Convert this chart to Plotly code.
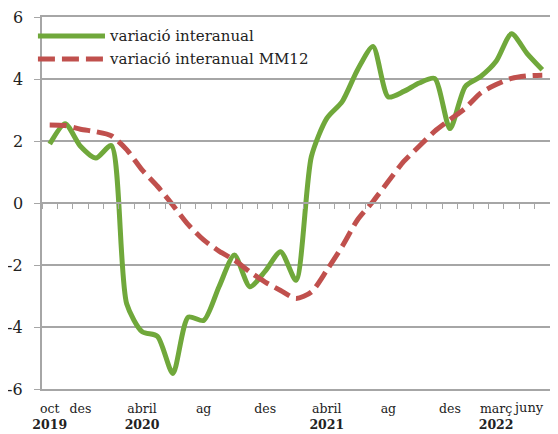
import plotly.graph_objects as go

# months from oct 2019 to juny 2022 (index 0..32)
months = ["oct 2019", "nov 2019", "des 2019", "gen 2020", "feb 2020", "març 2020",
          "abril 2020", "maig 2020", "juny 2020", "jul 2020", "ag 2020", "set 2020",
          "oct 2020", "nov 2020", "des 2020", "gen 2021", "feb 2021", "març 2021",
          "abril 2021", "maig 2021", "juny 2021", "jul 2021", "ag 2021", "set 2021",
          "oct 2021", "nov 2021", "des 2021", "gen 2022", "feb 2022", "març 2022",
          "abril 2022", "maig 2022", "juny 2022"]

interanual = [1.9, 2.56, 1.83, 1.45, 1.85, -3.25, -4.15, -4.3, -5.5, -3.68, -3.79,
              -2.7, -1.68, -2.7, -2.2, -1.57, -2.49, 1.5, 2.73, 3.27, 4.3, 5.05,
              3.42, 3.6, 3.87, 4.02, 2.4, 3.76, 4.08, 4.57, 5.46, 4.83, 4.3]

interanual_mm12 = [2.52, 2.5, 2.38, 2.3, 2.17, 1.72, 1.07, 0.54, -0.07, -0.7, -1.19,
                   -1.55, -1.84, -2.22, -2.55, -2.82, -3.08, -2.87, -2.17, -1.4, -0.54,
                   0.05, 0.7, 1.34, 1.83, 2.31, 2.69, 3.06, 3.55, 3.82, 4.02, 4.1, 4.12]

tick_months = [0, 2, 6, 10, 14, 18, 22, 26, 29]
tick_text = ["oct<br><b>2019</b>", "des", "abril<br><b>2020</b>", "ag", "des",
             "abril<br><b>2021</b>", "ag", "des", "març<br><b>2022</b>"]
last_label = "juny"  # last month, right-aligned so it stays inside the picture

y_ticks = [-6, -4, -2, 0, 2, 4, 6]

GREEN = "#70a83b"
RED = "#c0504d"
GRID = "#a6a6a6"
FONT = "DejaVu Serif"
DASH = "17px,7px"

x = list(range(len(months)))
bounds = [i - 0.5 for i in range(len(months) + 1)]

fig = go.Figure()
fig.add_trace(go.Scatter(x=x, y=interanual, mode="lines", name="variació interanual",
                         line=dict(color=GREEN, width=5, shape="spline", smoothing=0.7),
                         showlegend=False))
fig.add_trace(go.Scatter(x=x, y=interanual_mm12, mode="lines", xaxis="x2",
                         name="variació interanual MM12",
                         line=dict(color=RED, width=5, dash=DASH, shape="spline", smoothing=0.7),
                         showlegend=False))

# hand-made legend, long line samples like the original
legend_items = [("variació interanual", GREEN, "solid", 0.949),
                ("variació interanual MM12", RED, DASH, 0.887)]
for label, color, dash, ypos in legend_items:
    fig.add_shape(type="line", xref="paper", yref="paper", x0=-0.008, x1=0.124,
                  y0=ypos, y1=ypos, line=dict(color=color, width=5, dash=dash))
    fig.add_annotation(text=label, xref="paper", yref="paper", x=0.128, y=ypos,
                       xanchor="left", yanchor="middle", showarrow=False,
                       font=dict(family=FONT, size=15, color="#222"))

fig.add_annotation(text=last_label, x=x[-1], xref="x", y=-0.024, yref="paper",
                   xanchor="right", yanchor="top", showarrow=False, xshift=4,
                   font=dict(family=FONT, size=13, color="#222"))

# y tick labels placed as text so their distance to the axis is exact
for v in y_ticks:
    fig.add_annotation(text=str(v), x=-0.034, xref="paper", y=v, yref="y",
                       xanchor="right", yanchor="middle", showarrow=False,
                       font=dict(family=FONT, size=16, color="#222"))

# the page body has an 8px margin, so the figure is 8px smaller than the window
fig.update_layout(
    width=550, height=426,
    margin=dict(l=34, r=8, t=9, b=45),
    paper_bgcolor="white", plot_bgcolor="white",
    font=dict(family=FONT, size=14, color="#222"),
    xaxis=dict(range=[-0.5, 32.5], tickmode="array", tickvals=tick_months,
               ticktext=tick_text, tickangle=0, automargin=False,
               showgrid=False, zeroline=False, ticks="", ticklabelstandoff=7,
               showline=True, mirror=True, linecolor=GRID, linewidth=1.5,
               tickfont=dict(size=12.5)),
    xaxis2=dict(range=[-0.5, 32.5], overlaying="x", anchor="free", position=0.5,
                tickmode="array", tickvals=bounds, showticklabels=False,
                ticks="outside", ticklen=5, tickcolor=GRID, showline=True,
                linecolor=GRID, linewidth=1.5, showgrid=False, zeroline=False),
    yaxis=dict(range=[-6, 6], tickmode="array", tickvals=y_ticks,
               showticklabels=False, automargin=False,
               showgrid=True, gridcolor=GRID, gridwidth=1.5, zeroline=False,
               showline=True, linecolor=GRID, linewidth=1.5,
               ticks="outside", ticklen=6, tickcolor=GRID),
)

fig.write_html("out.html")
